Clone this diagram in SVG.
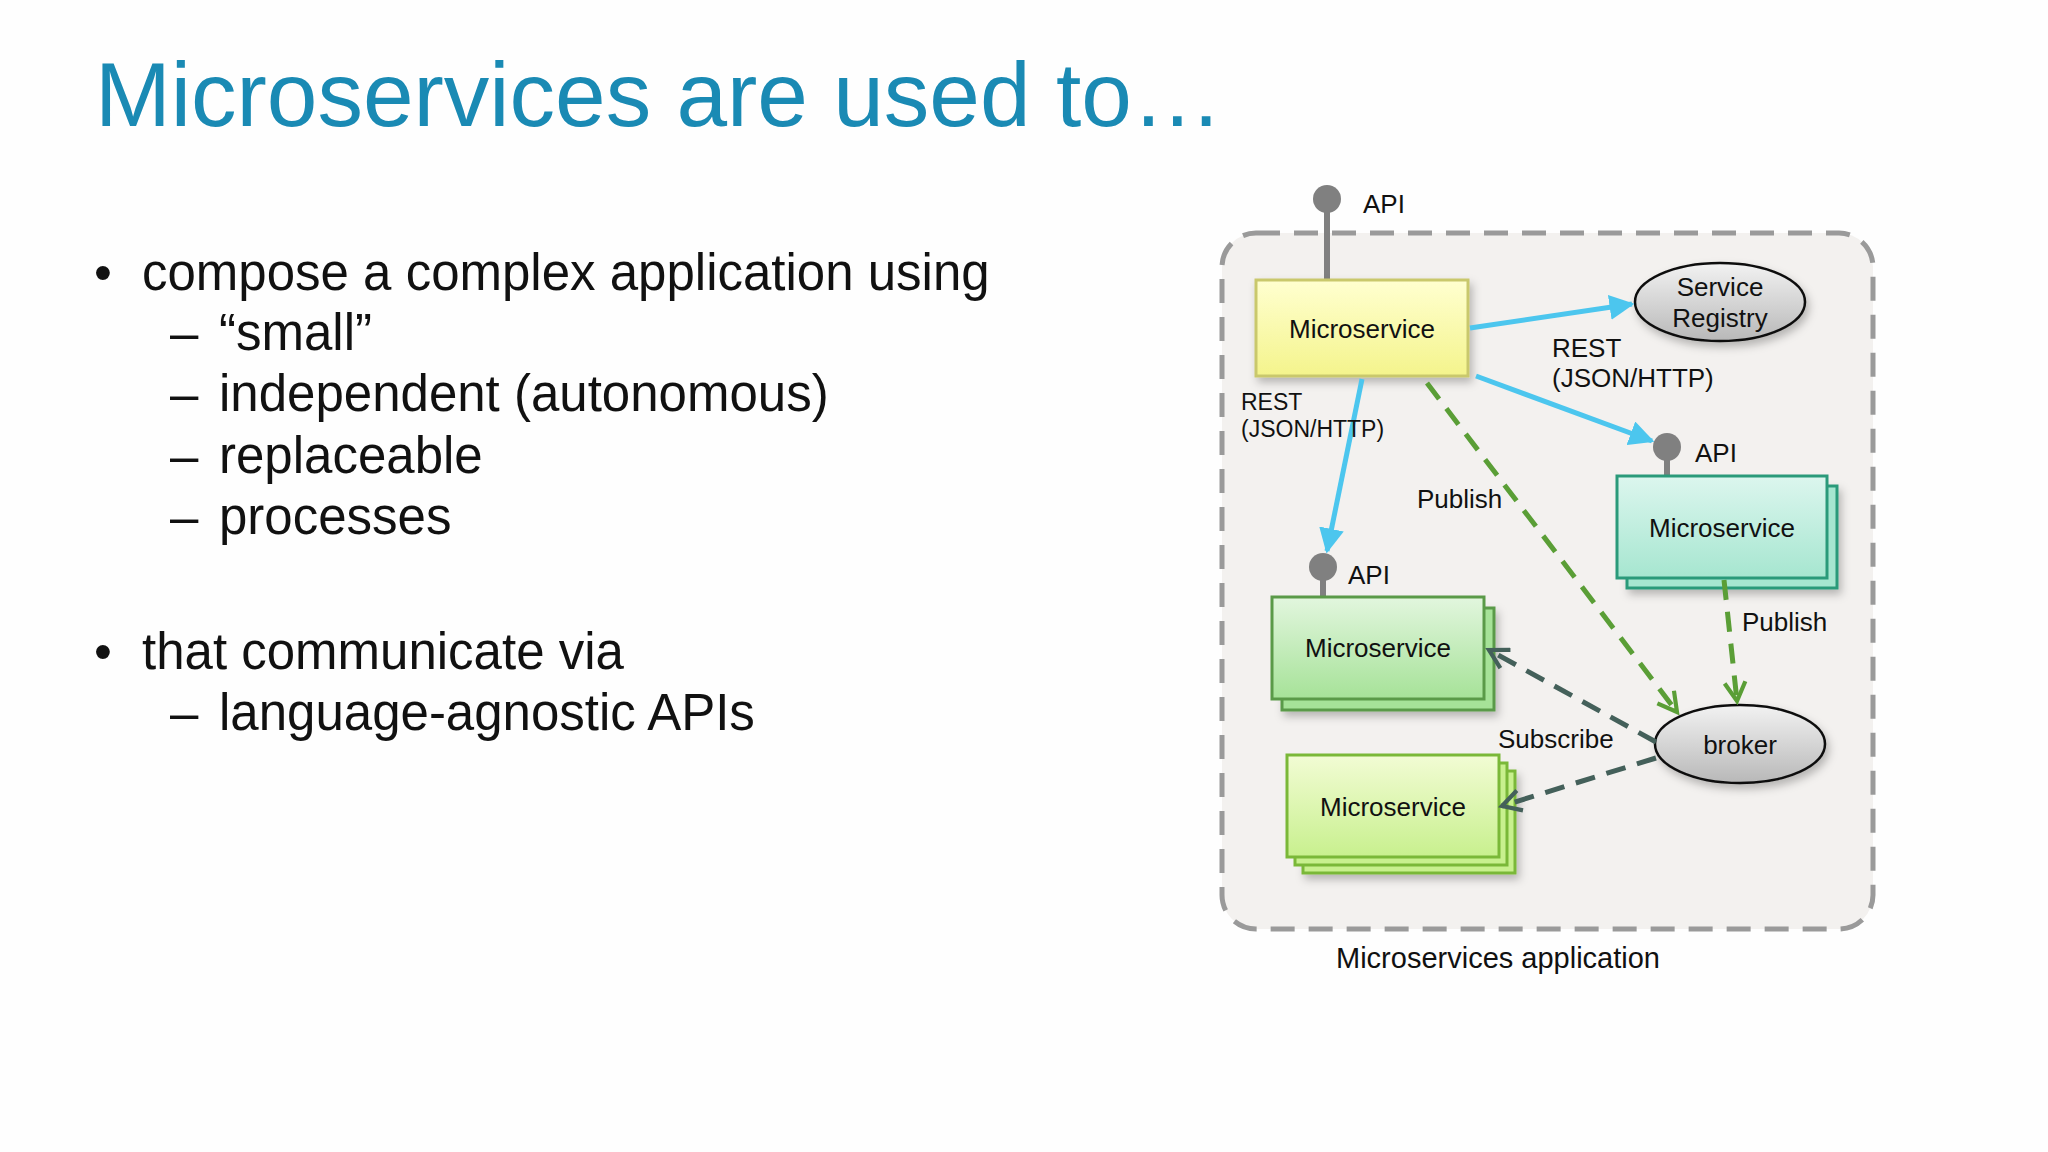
<svg xmlns="http://www.w3.org/2000/svg" width="2048" height="1152" viewBox="0 0 2048 1152">
<defs>
<linearGradient id="gy" x1="0" y1="0" x2="0" y2="1"><stop offset="0" stop-color="#ffffd0"/><stop offset="1" stop-color="#f4f48c"/></linearGradient>
<linearGradient id="gt" x1="0" y1="0" x2="0" y2="1"><stop offset="0" stop-color="#dcf6ee"/><stop offset="1" stop-color="#a6e6d0"/></linearGradient>
<linearGradient id="gg" x1="0" y1="0" x2="0" y2="1"><stop offset="0" stop-color="#e2f6de"/><stop offset="1" stop-color="#a6e298"/></linearGradient>
<linearGradient id="gl" x1="0" y1="0" x2="0" y2="1"><stop offset="0" stop-color="#f2fcd4"/><stop offset="1" stop-color="#c8f08e"/></linearGradient>
<linearGradient id="ge" x1="0" y1="0" x2="0" y2="1"><stop offset="0" stop-color="#f2f2f2"/><stop offset="1" stop-color="#b8b8b8"/></linearGradient>
<marker id="mb" viewBox="0 0 10 10" refX="9" refY="5" markerWidth="5" markerHeight="5" orient="auto" markerUnits="strokeWidth"><path d="M0,0 L10,5 L0,10 z" fill="#4cc6ee"/></marker>
<marker id="mg" viewBox="0 0 12 12" refX="10" refY="6" markerWidth="5" markerHeight="5" orient="auto" markerUnits="strokeWidth"><path d="M1,1 L10,6 L1,11" fill="none" stroke="#5a9e36" stroke-width="2"/></marker>
<marker id="md" viewBox="0 0 12 12" refX="10" refY="6" markerWidth="5" markerHeight="5" orient="auto" markerUnits="strokeWidth"><path d="M1,1 L10,6 L1,11" fill="none" stroke="#44605a" stroke-width="2"/></marker>
<filter id="sh" x="-10%" y="-10%" width="130%" height="140%"><feDropShadow dx="3" dy="5" stdDeviation="4" flood-opacity="0.25"/></filter>
</defs>
<style>
text{font-family:"Liberation Sans",Arial,sans-serif;fill:#111}
.b{font-size:51px}
.s{font-size:26px}
.n{font-size:26px;text-anchor:middle}
.blue{stroke:#4cc6ee;stroke-width:5;fill:none;marker-end:url(#mb)}
.pub{stroke:#5a9e36;stroke-width:5;fill:none;stroke-dasharray:20 12;marker-end:url(#mg)}
.sub{stroke:#44605a;stroke-width:5;fill:none;stroke-dasharray:20 12;marker-end:url(#md)}
.api{fill:#808080}
.stem{stroke:#808080;stroke-width:6}
</style>
<rect width="2048" height="1152" fill="#fefefe"/>
<text x="95" y="126" style="font-size:91px;fill:#1a8ab4">Microservices are used to…</text>
<g class="b">
<text x="94" y="290">•</text><text x="142" y="290">compose a complex application using</text>
<text x="170" y="350">–</text><text x="219" y="350">“small”</text>
<text x="170" y="411">–</text><text x="219" y="411">independent (autonomous)</text>
<text x="170" y="473">–</text><text x="219" y="473">replaceable</text>
<text x="170" y="534">–</text><text x="219" y="534">processes</text>
<text x="94" y="669">•</text><text x="142" y="669">that communicate via</text>
<text x="170" y="730">–</text><text x="219" y="730">language-agnostic APIs</text>
</g>
<g id="container">
<rect x="1222" y="233" width="651" height="696" rx="34" fill="#f3f1ef" stroke="#9a9a9a" stroke-width="5" stroke-dasharray="24 14"/>
<text x="1498" y="968" style="font-size:29px;text-anchor:middle">Microservices application</text>
</g>
<g id="ms-top">
<line class="stem" x1="1327" y1="199" x2="1327" y2="280"/><circle class="api" cx="1327" cy="199" r="14"/>
<text class="s" x="1363" y="213">API</text>
<rect x="1256" y="280" width="212" height="96" fill="url(#gy)" stroke="#c9c86c" stroke-width="3" filter="url(#sh)"/>
<text class="n" x="1362" y="338">Microservice</text>
</g>
<g id="registry">
<ellipse cx="1720" cy="302" rx="85" ry="39" fill="url(#ge)" stroke="#111" stroke-width="2.5" filter="url(#sh)"/>
<text class="n" x="1720" y="296">Service</text><text class="n" x="1720" y="327">Registry</text>
</g>
<g id="ms-teal">
<line class="stem" x1="1667" y1="447" x2="1667" y2="476"/><circle class="api" cx="1667" cy="447" r="14"/>
<text class="s" x="1695" y="462">API</text>
<rect x="1627" y="486" width="210" height="102" fill="#a6e6d0" stroke="#2a9a7a" stroke-width="3" filter="url(#sh)"/>
<rect x="1617" y="476" width="210" height="102" fill="url(#gt)" stroke="#2a9a7a" stroke-width="3"/>
<text class="n" x="1722" y="537">Microservice</text>
</g>
<g id="ms-green">
<line class="stem" x1="1323" y1="567" x2="1323" y2="598"/><circle class="api" cx="1323" cy="567" r="14"/>
<text class="s" x="1348" y="584">API</text>
<rect x="1282" y="608" width="212" height="102" fill="#a6e298" stroke="#5a9a48" stroke-width="3" filter="url(#sh)"/>
<rect x="1272" y="597" width="212" height="102" fill="url(#gg)" stroke="#5a9a48" stroke-width="3"/>
<text class="n" x="1378" y="657">Microservice</text>
</g>
<g id="ms-lime">
<rect x="1303" y="771" width="212" height="102" fill="#c8f08e" stroke="#7ab838" stroke-width="3" filter="url(#sh)"/>
<rect x="1295" y="763" width="212" height="102" fill="#c8f08e" stroke="#7ab838" stroke-width="3"/>
<rect x="1287" y="755" width="212" height="102" fill="url(#gl)" stroke="#7ab838" stroke-width="3"/>
<text class="n" x="1393" y="816">Microservice</text>
</g>
<g id="broker">
<ellipse cx="1740" cy="744" rx="85" ry="39" fill="url(#ge)" stroke="#111" stroke-width="2.5" filter="url(#sh)"/>
<text class="n" x="1740" y="754">broker</text>
</g>
<g id="connectors">
<line class="blue" x1="1470" y1="328" x2="1632" y2="304"/>
<line class="blue" x1="1476" y1="376" x2="1652" y2="441"/>
<line class="blue" x1="1362" y1="379" x2="1327" y2="551"/>
<line class="pub" x1="1427" y1="383" x2="1677" y2="712"/>
<line class="pub" x1="1724" y1="580" x2="1737" y2="701"/>
<line class="sub" x1="1656" y1="742" x2="1489" y2="650"/>
<line class="sub" x1="1656" y1="758" x2="1502" y2="806"/>
<text class="s" x="1552" y="357">REST</text><text class="s" x="1552" y="387">(JSON/HTTP)</text>
<text class="s" x="1241" y="410" style="font-size:23px">REST</text><text class="s" x="1241" y="437" style="font-size:23px">(JSON/HTTP)</text>
<text class="s" x="1417" y="508">Publish</text>
<text class="s" x="1742" y="631">Publish</text>
<text class="s" x="1498" y="748">Subscribe</text>
</g>
</svg>
